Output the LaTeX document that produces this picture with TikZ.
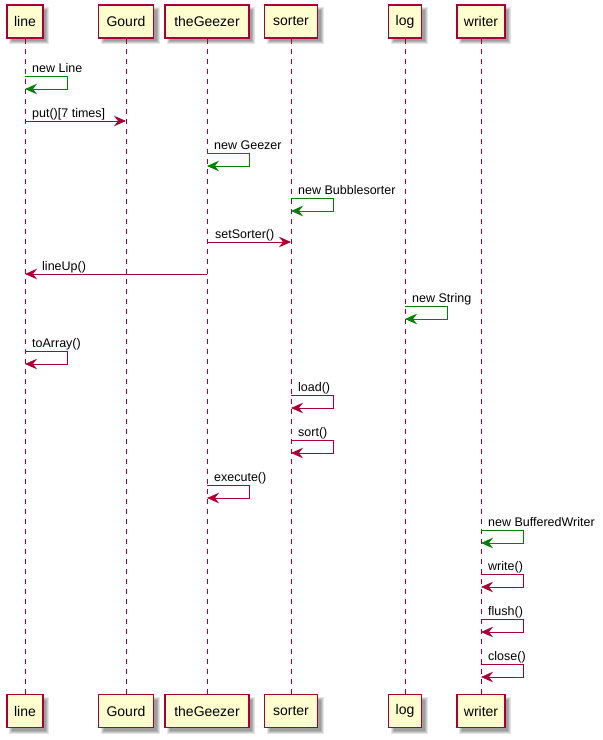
\documentclass[tikz,border=0pt]{standalone}
\usepackage{fontspec}
\setmainfont{Liberation Sans}
\usetikzlibrary{arrows.meta,calc}
\definecolor{pborder}{HTML}{A80036}
\definecolor{pfill}{HTML}{FEFECE}
\definecolor{pgreen}{HTML}{008000}
\definecolor{sh1}{gray}{0.90}
\definecolor{sh2}{gray}{0.80}
\definecolor{sh3}{gray}{0.70}
\definecolor{sh4}{gray}{0.62}
\tikzset{
  part/.style={draw=pborder, fill=pfill, line width=1.5pt, minimum height=33pt, inner sep=0pt,
    font=\fontsize{14}{16}\selectfont},
  lifeline/.style={draw=pborder, line width=1pt, dash pattern=on 5pt off 5pt},
  msg/.style={line width=1pt, -{Stealth[length=12pt,width=10.5pt,inset=4pt]}},
  red/.style={draw=pborder, fill=none},
  grn/.style={draw=pgreen, fill=none},
  lbl/.style={anchor=base west, inner sep=0pt, font=\fontsize{12.5}{14}\selectfont}
}
\newcommand\selfcall[4]{%
  \coordinate (S) at (#1.south |- 0,#2);
  \draw[msg,#3] (S) -- ++(42,0) -- ++(0,13) -- ++(-42,0);
  \node[lbl] at ($(S)+(7,-4)$) {#4};
}
\begin{document}
\begin{tikzpicture}[x=1pt,y=-1pt]
\useasboundingbox (0,0) rectangle (603,740);
\foreach \x/\w in {25/36, 126/55, 207/84, 291/53, 405/33, 481/48}{
  \pgfmathsetmacro\xl{\x-\w/2}
  \pgfmathsetmacro\xr{\x+\w/2}
  \foreach \ty/\by in {5/38, 694.5/727.5}{
    \fill[sh1] (\xl+2,\ty+2) rectangle (\xr+6,\by+6);
    \fill[sh2] (\xl+3,\ty+3) rectangle (\xr+5,\by+5);
    \fill[sh3] (\xl+4,\ty+4) rectangle (\xr+4,\by+4);
    \fill[sh4] (\xl+5,\ty+5) rectangle (\xr+3,\by+3);
  }
}
\foreach \n/\x/\w/\t in {line/25/36/line, gourd/126/55/Gourd, geezer/207/84/theGeezer, sorter/291/53/sorter, log/405/33/log, writer/481/48/writer}{
  \node[part, minimum width=\w pt] (\n T) at (\x,21.5) {\t};
}
\foreach \n/\x/\w/\t in {line/25/36/line, gourd/126/55/Gourd, geezer/207/84/theGeezer, sorter/291/53/sorter, log/405/33/log, writer/481/48/writer}{
  \node[part, minimum width=\w pt] (\n B) at (\x,711) {\t};
}
\foreach \n in {line,gourd,geezer,sorter,log,writer}{
  \draw[lifeline] (\n T.south) -- (\n B.north);
}
% messages
\selfcall{lineT}{76}{grn}{new Line}
\coordinate (a1) at (lineT.south |- 0,121);
\coordinate (a2) at (gourdT.south |- 0,121);
\draw[msg,red] (a1) -- (a2);
\node[lbl] at ($(a1)+(7,-4)$) {put()[7 times]};
\selfcall{geezerT}{153}{grn}{new Geezer}
\selfcall{sorterT}{198}{grn}{new Bubblesorter}
\coordinate (b1) at (geezerT.south |- 0,242);
\coordinate (b2) at (sorterT.south |- 0,242);
\draw[msg,red] (b1) -- (b2);
\node[lbl] at ($(b1)+(8,-4)$) {setSorter()};
\coordinate (c1) at (geezerT.south |- 0,274);
\coordinate (c2) at (lineT.south |- 0,274);
\draw[msg,red] (c1) -- (c2);
\node[lbl] at ($(c2)+(17,-4)$) {lineUp()};
\selfcall{logT}{306}{grn}{new String}
\selfcall{lineT}{351}{red}{toArray()}
\selfcall{sorterT}{395}{red}{load()}
\selfcall{sorterT}{440}{red}{sort()}
\selfcall{geezerT}{485}{red}{execute()}
\selfcall{writerT}{530}{grn}{new BufferedWriter}
\selfcall{writerT}{574}{red}{write()}
\selfcall{writerT}{619}{red}{flush()}
\selfcall{writerT}{664}{red}{close()}
\end{tikzpicture}
\end{document}
